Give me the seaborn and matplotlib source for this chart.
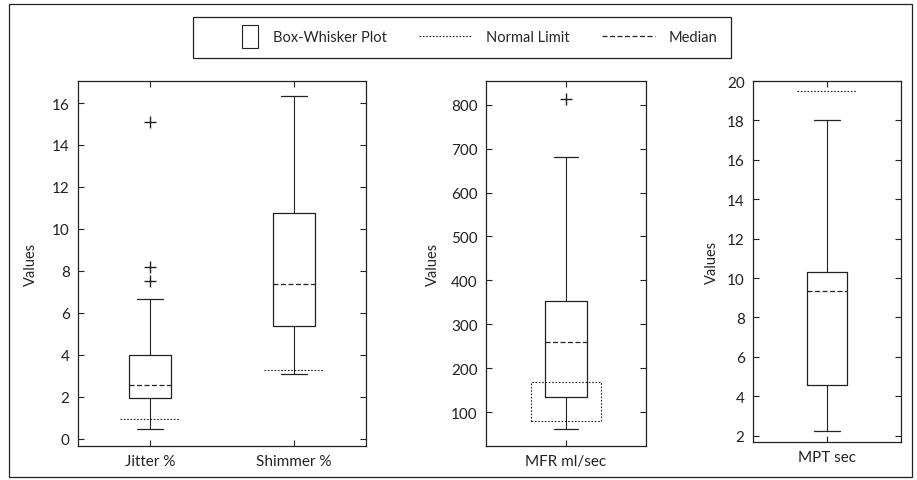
import matplotlib
matplotlib.use("Agg")
import matplotlib.pyplot as plt
import seaborn as sns
from matplotlib.patches import Rectangle
from matplotlib.lines import Line2D
from matplotlib.legend_handler import HandlerPatch

# values (five-number summaries + outliers)
labels = ["Jitter %", "Shimmer %", "MFR ml/sec", "MPT sec"]
whis_low = [0.45, 3.1, 62, 2.25]
q1 = [1.95, 5.35, 135, 4.55]
medians = [2.55, 7.35, 260, 9.35]
q3 = [4.0, 10.75, 353, 10.3]
whis_high = [6.65, 16.35, 680, 18.0]
outliers = [[7.5, 8.2, 15.1], [], [812], []]
# normal limits: single line for jitter/shimmer/MPT, a band for MFR
normal_jitter = 0.95
normal_shimmer = 3.25
normal_mfr = [80, 168]
normal_mpt = 19.5

sns.set_theme(style="ticks")
plt.rcParams["font.family"] = ["Lato", "DejaVu Sans"]
plt.rcParams["font.size"] = 10.5

ink = "#222222"

def stats(i):
    return dict(label=labels[i], whislo=whis_low[i], q1=q1[i], med=medians[i],
                q3=q3[i], whishi=whis_high[i], fliers=outliers[i])

def style(ax, ylim, yticks, pad):
    ax.set_ylim(*ylim)
    ax.set_yticks(yticks)
    ax.set_ylabel("Values", fontsize=10.5, labelpad=pad)
    ax.tick_params(direction="in", length=4, width=0.8, top=True, right=True,
                   labelsize=11, colors=ink, pad=6)
    for s in ax.spines.values():
        s.set_color(ink)
        s.set_linewidth(0.9)

def draw(ax, idx, positions, w, cw):
    ax.bxp([stats(i) for i in idx], positions=positions, widths=w,
           capwidths=cw, showfliers=True,
           boxprops=dict(color=ink, linewidth=0.9),
           whiskerprops=dict(color=ink, linewidth=0.8),
           capprops=dict(color=ink, linewidth=0.9),
           medianprops=dict(color=ink, linewidth=0.9, linestyle=(0, (4, 2))),
           flierprops=dict(marker="+", markersize=8, markeredgecolor=ink,
                           markeredgewidth=1.0))

fig = plt.figure(figsize=(9.17, 4.81), dpi=100)
W, H = 917, 481
ax1 = fig.add_axes([78 / W, 1 - 447 / H, 288 / W, 365 / H])
ax2 = fig.add_axes([486 / W, 1 - 447 / H, 160 / W, 365 / H])
ax3 = fig.add_axes([753 / W, 1 - 443 / H, 148 / W, 361 / H])

dot = dict(color=ink, linewidth=0.8, linestyle=(0, (1.5, 1.5)))

draw(ax1, [0, 1], [0, 1], 0.29, 0.175)
ax1.set_xlim(-0.5, 1.5)
ax1.hlines(normal_jitter, -0.21, 0.21, **dot)
ax1.hlines(normal_shimmer, 1 - 0.21, 1 + 0.21, **dot)
style(ax1, (-0.35, 17.05), range(0, 17, 2), 10)

draw(ax2, [2], [0], 0.26, 0.145)
ax2.set_xlim(-0.5, 0.5)
ax2.add_patch(Rectangle((-0.22, normal_mfr[0]), 0.44, normal_mfr[1] - normal_mfr[0],
                        fill=False, edgecolor=ink, linewidth=0.8,
                        linestyle=(0, (1.5, 1.5))))
style(ax2, (23, 854), range(100, 801, 100), 8)

draw(ax3, [3], [0], 0.27, 0.18)
ax3.set_xlim(-0.5, 0.5)
ax3.hlines(normal_mpt, -0.2, 0.2, **dot)
style(ax3, (1.68, 20.0), range(2, 21, 2), 6)

# legend with a narrow box symbol
def small_box(legend, orig_handle, xdescent, ydescent, width, height, fontsize):
    return Rectangle((width - 12 - xdescent, -ydescent - 0.6 * height), 11.5, 2.2 * height)

handles = [Rectangle((0, 0), 1, 1, facecolor="white", edgecolor=ink, linewidth=0.8),
           Line2D([], [], color=ink, linewidth=0.8, linestyle=(0, (1.5, 1.5))),
           Line2D([], [], color=ink, linewidth=0.9, linestyle=(0, (4, 2)))]
leg = fig.legend(handles, ["Box-Whisker Plot", "Normal Limit", "Median"],
                 loc="center", bbox_to_anchor=(462 / W, 1 - 38.5 / H), ncol=3,
                 frameon=True, fancybox=False, framealpha=1, edgecolor=ink,
                 handlelength=3.6, handletextpad=1.0, columnspacing=2.2,
                 borderpad=0.9, fontsize=10.5,
                 handler_map={Rectangle: HandlerPatch(patch_func=small_box)})
leg.get_frame().set_linewidth(0.9)

# outer frame of the figure
fig.patches.append(Rectangle((9 / W, 3 / H), 903 / W, 473 / H, transform=fig.transFigure,
                             fill=False, edgecolor=ink, linewidth=0.9))

fig.savefig("out.png", dpi=100)
